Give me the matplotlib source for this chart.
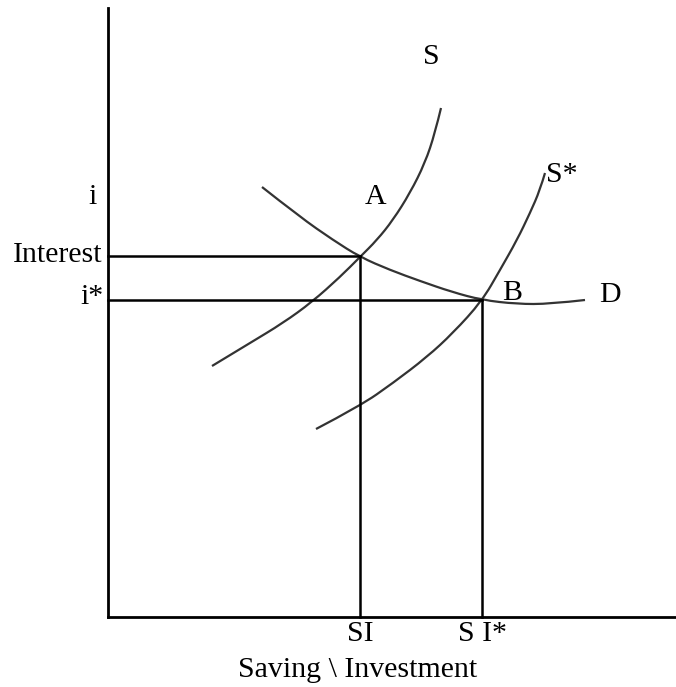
import numpy as np
from matplotlib import pyplot as plt
from matplotlib.path import Path
from matplotlib.patches import PathPatch

''' Curve points (pixel coordinates read off the diagram) '''
curveS_x = [212, 250, 283, 312, 340, 360, 377, 393, 410, 425, 435, 441]
curveS_y = [366, 343, 323, 302, 277, 257, 240, 220, 193, 163, 133, 108]

curveSstar_x = [316, 360, 393, 427, 453, 482, 500, 517, 530, 540, 545]
curveSstar_y = [429, 406, 383, 357, 333, 301, 270, 240, 213, 190, 173]

curveD_x = [262, 300, 333, 360, 390, 420, 452, 482, 517, 550, 585]
curveD_y = [187, 217, 240, 257, 270, 281, 292, 300, 304, 304, 300]

pointA = (360, 256)
pointB = (482, 300)
originX, originY = 108, 617

labels = ['S', 'A', 'S*', 'B', 'D']
labelX = [431, 376, 562, 512, 610]
labelY = [57, 197, 175, 293, 295]

plt.rcParams['font.family'] = ['Liberation Serif', 'DejaVu Serif']


def smoothCurve(ax, xs, ys, color):
    # quadratic bezier through midpoints, control points = read points
    pts = list(zip(xs, ys))
    verts = [pts[0]]
    codes = [Path.MOVETO]
    for i in range(1, len(pts) - 1):
        mid = ((pts[i][0] + pts[i + 1][0]) / 2, (pts[i][1] + pts[i + 1][1]) / 2)
        if i == len(pts) - 2:
            mid = pts[-1]
        verts += [pts[i], mid]
        codes += [Path.CURVE3, Path.CURVE3]
    ax.add_patch(PathPatch(Path(verts, codes), fill=False, edgecolor=color, lw=1.6))


fig = plt.figure(figsize=(6.76, 6.87), dpi=100)
ax = fig.add_axes([0, 0, 1, 1])
ax.set_xlim(0, 676)
ax.set_ylim(687, 0)
ax.axis('off')

''' Axes '''
ax.plot([originX, originX], [8, originY], color='black', lw=2)
ax.plot([originX, 676], [originY, originY], color='black', lw=2)

''' Curves '''
curveColor = '#333333'
smoothCurve(ax, curveS_x, curveS_y, curveColor)
smoothCurve(ax, curveSstar_x, curveSstar_y, curveColor)
smoothCurve(ax, curveD_x, curveD_y, curveColor)

''' Guide lines '''
for px, py in [pointA, pointB]:
    ax.plot([originX, px], [py, py], color='black', lw=1.8)
    ax.plot([px, px], [py, originY], color='black', lw=1.8)

fs = 21.5
for t, x, y in zip(labels, labelX, labelY):
    ax.text(x, y, t, fontsize=fs, ha='center', va='center')

ax.text(97, 197, 'i', fontsize=fs, ha='right', va='center')
ax.text(103, 255, 'Interest', fontsize=fs, ha='right', va='center')
ax.text(104, 297, 'i*', fontsize=fs, ha='right', va='center')
ax.text(pointA[0], 634, 'SI', fontsize=fs, ha='center', va='center')
ax.text(pointB[0], 634, 'S I*', fontsize=fs, ha='center', va='center')
ax.text(358, 670, 'Saving \\ Investment', fontsize=fs, ha='center', va='center')

fig.savefig('out.png', dpi=100)
